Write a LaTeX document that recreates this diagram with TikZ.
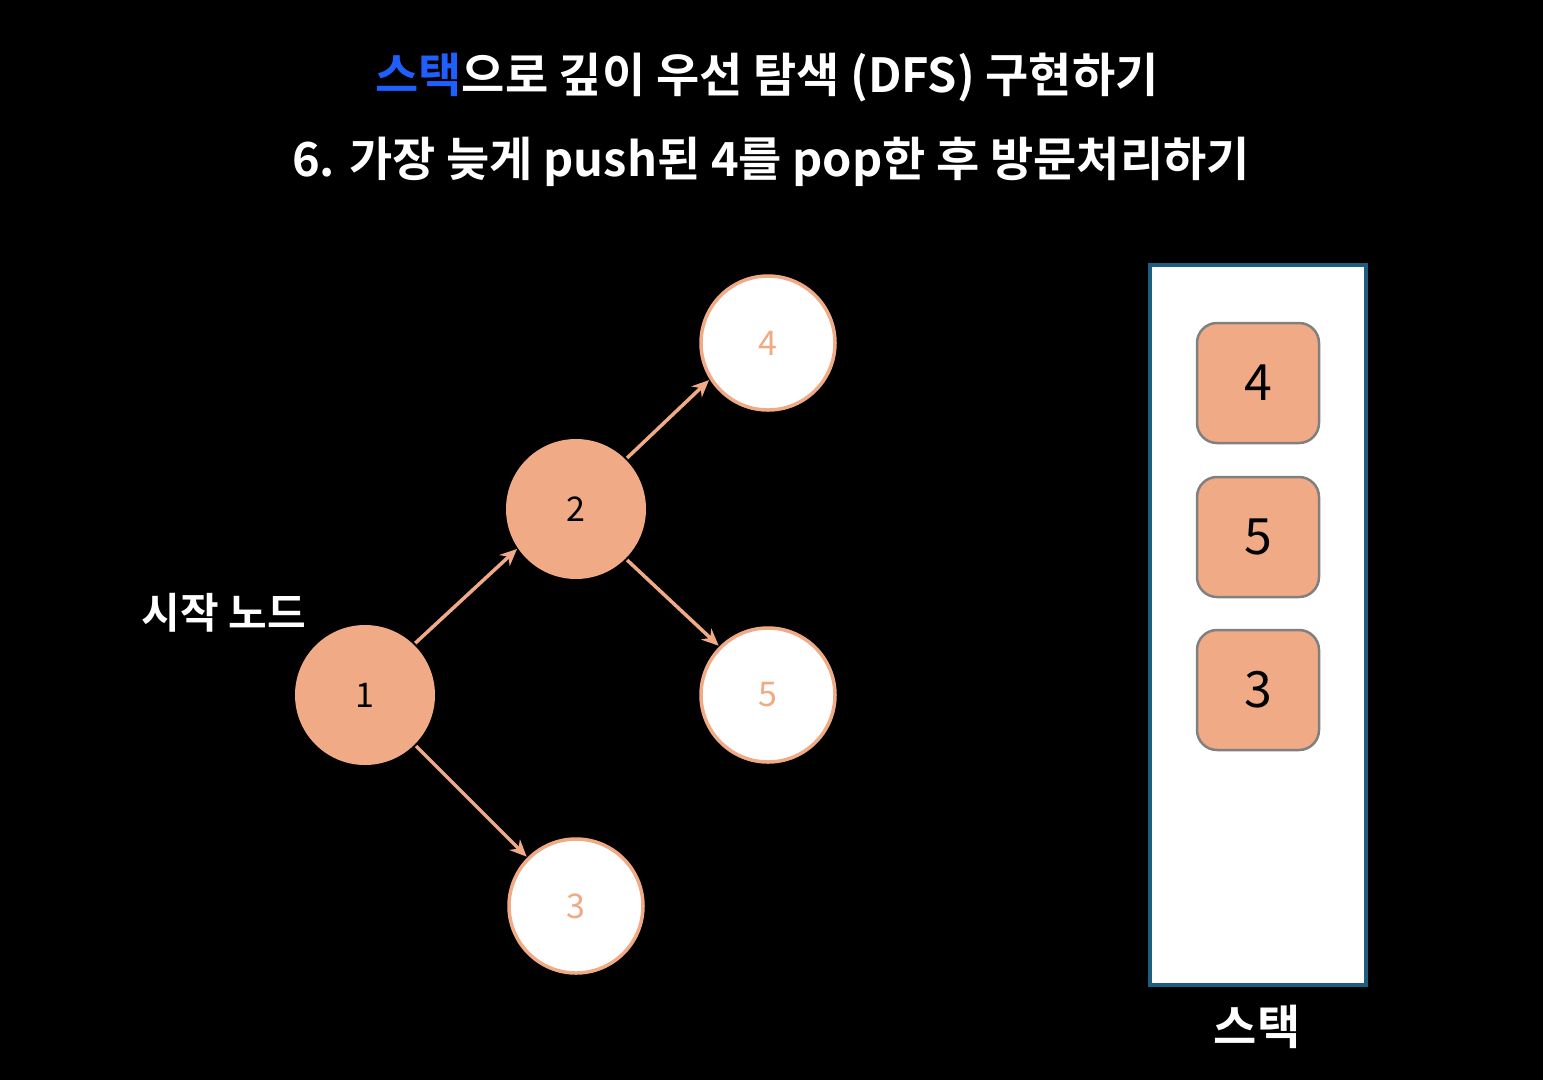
\documentclass[tikz,border=0pt]{standalone}
\usepackage{fontspec}
\setmainfont{Noto Sans CJK KR}[BoldFont={Noto Sans CJK KR Bold}]
\usetikzlibrary{arrows.meta}
\definecolor{salmon}{HTML}{F0AA85}
\definecolor{titleblue}{HTML}{1F5EFF}
\definecolor{stackblue}{HTML}{1B5E80}
\definecolor{itemgray}{HTML}{808080}
\begin{document}
\begin{tikzpicture}[x=1pt,y=-1pt,
  visited/.style={circle,fill=salmon,minimum size=140pt,inner sep=0pt,font=\fontsize{34}{34}\selectfont,text=black},
  unvisited/.style={circle,fill=white,draw=salmon,line width=3.5pt,minimum size=134pt,inner sep=0pt,font=\fontsize{34}{34}\selectfont,text=salmon},
  edge/.style={draw=salmon,line width=3.5pt,-{Stealth[length=17pt,width=15pt]},shorten >=1pt,shorten <=2pt},
  stackitem/.style={rectangle,rounded corners=20pt,fill=salmon,draw=itemgray,line width=2.5pt,minimum width=122pt,minimum height=120pt,font=\fontsize{50}{50}\selectfont,text=black},
  label/.style={text=white,font=\bfseries\fontsize{40}{40}\selectfont}
]
\fill[black] (0,0) rectangle (1543,1080);
\useasboundingbox (0,0) rectangle (1543,1080);

\node[label,font=\bfseries\fontsize{47}{47}\selectfont] (t1) at (767,78) {\textcolor{titleblue}{스택}으로 깊이 우선 탐색 (DFS) 구현하기};
\node[label,font=\bfseries\fontsize{47}{47}\selectfont] (t2) at (771,162) {6. 가장 늦게 push된 4를 pop한 후 방문처리하기};

\node[visited] (n1) at (365,695) {1};
\node[visited] (n2) at (576,509) {2};
\node[unvisited] (n4) at (768,343) {4};
\node[unvisited] (n5) at (768,695) {5};
\node[unvisited] (n3) at (576,906) {3};

\node[label,font=\bfseries\fontsize{42}{42}\selectfont] (start) at (224,613) {시작 노드};

\draw[edge] (n1.46) -- (n2.214);
\draw[edge] (n2.45) -- (n4.212);
\draw[edge] (n2.315) -- (n5.135);
\draw[edge] (n1.315) -- (n3.135);

\node[rectangle,fill=white,draw=stackblue,line width=4pt,minimum width=216pt,minimum height=720pt,inner sep=0pt] (stack) at (1258,625) {};
\node[stackitem] (s4) at (1258,383) {4};
\node[stackitem] (s5) at (1258,537) {5};
\node[stackitem] (s3) at (1258,690) {3};

\node[label,font=\bfseries\fontsize{47}{47}\selectfont] (stacklabel) at (1257,1027) {스택};
\end{tikzpicture}
\end{document}
